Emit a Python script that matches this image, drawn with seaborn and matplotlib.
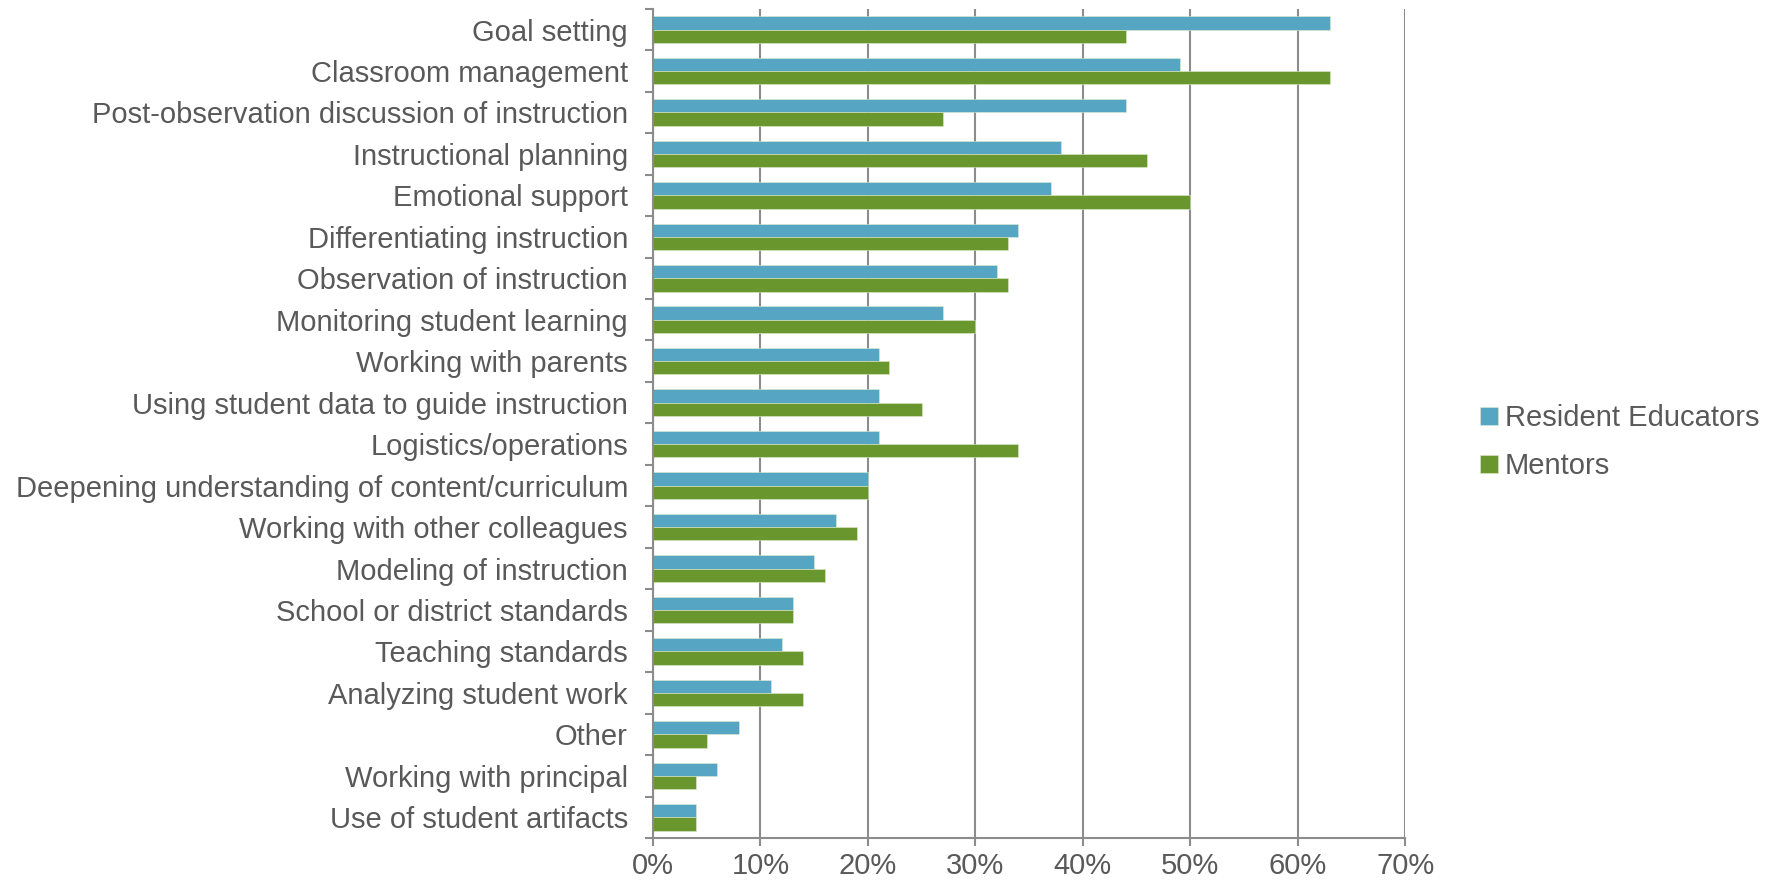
import matplotlib
matplotlib.use("Agg")
import matplotlib.pyplot as plt
import seaborn as sns
import pandas as pd
import numpy as np
from matplotlib.ticker import PercentFormatter, FixedLocator

categories = [
    "Goal setting", "Classroom management", "Post-observation discussion of instruction",
    "Instructional planning", "Emotional support", "Differentiating instruction",
    "Observation of instruction", "Monitoring student learning", "Working with parents",
    "Using student data to guide instruction", "Logistics/operations",
    "Deepening understanding of content/curriculum", "Working with other colleagues",
    "Modeling of instruction", "School or district standards", "Teaching standards",
    "Analyzing student work", "Other", "Working with principal", "Use of student artifacts",
]
resident_educators = [63, 49, 44, 38, 37, 34, 32, 27, 21, 21, 21, 20, 17, 15, 13, 12, 11, 8, 6, 4]
mentors = [44, 63, 27, 46, 50, 33, 33, 30, 22, 25, 34, 20, 19, 16, 13, 14, 14, 5, 4, 4]
series_names = ["Resident Educators", "Mentors"]
x_ticks = [0, 10, 20, 30, 40, 50, 60, 70]

df = pd.DataFrame({
    "category": categories * 2,
    "value": resident_educators + mentors,
    "series": [series_names[0]] * len(categories) + [series_names[1]] * len(categories),
})

sns.set_theme(style="white")
plt.rcParams["font.family"] = ["Liberation Sans", "DejaVu Sans"]

text_color = "#595959"
grid_color = "#8C8C8C"
palette = {series_names[0]: "#56A6C3", series_names[1]: "#6A962E"}
fs = 21

fig = plt.figure(figsize=(17.72, 8.81), dpi=100)
ax = fig.add_axes([0.3685, 0.0488, 0.4245, 0.9412])

sns.barplot(data=df, y="category", x="value", hue="series", order=categories,
            hue_order=series_names, palette=palette, width=0.64, ax=ax,
            edgecolor="#DDEBD0", linewidth=0.4, saturation=1)

ax.set_xlim(0, 70)
ax.set_ylim(len(categories) - 0.5, -0.5)
ax.xaxis.set_major_locator(FixedLocator(x_ticks))
ax.xaxis.set_major_formatter(PercentFormatter(decimals=0))
ax.set_xlabel("")
ax.set_ylabel("")

ax.grid(axis="x", color=grid_color, linewidth=1.5)
ax.set_axisbelow(True)
for s in ["top", "right"]:
    ax.spines[s].set_visible(False)
for s in ["left", "bottom"]:
    ax.spines[s].set_color(grid_color)
    ax.spines[s].set_linewidth(1.5)

ax.tick_params(axis="y", which="major", length=0, labelsize=fs, labelcolor=text_color, pad=18)
ax.yaxis.set_minor_locator(FixedLocator(np.arange(-0.5, len(categories), 1.0)))
ax.tick_params(axis="y", which="minor", length=6, width=1.5, color=grid_color, left=True)
ax.tick_params(axis="x", which="major", length=6, width=1.5, color=grid_color,
               labelsize=fs, labelcolor=text_color, bottom=True, pad=4)

handles, labels = ax.get_legend_handles_labels()
fig.legend(handles, labels, loc="center left", bbox_to_anchor=(0.8205, 0.498),
           bbox_transform=fig.transFigure, frameon=False,
           fontsize=fs, labelcolor=text_color, handlelength=0.6, handleheight=0.6,
           handletextpad=0.25, labelspacing=0.68)
ax.get_legend().remove()

fig.savefig("out.png", dpi=100, facecolor="white")
